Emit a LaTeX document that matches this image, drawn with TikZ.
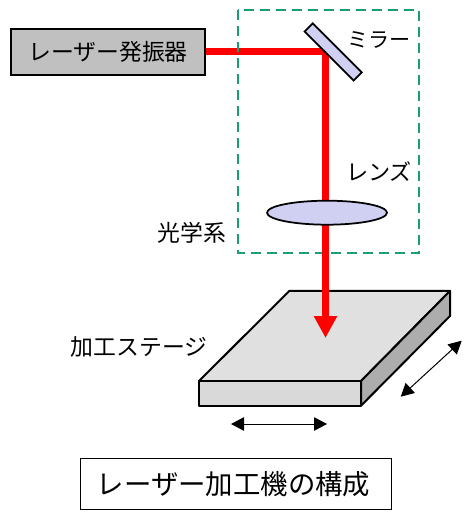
\documentclass[tikz,border=0pt]{standalone}
\usepackage{fontspec}
\setmainfont{Noto Sans CJK JP}
\usetikzlibrary{arrows.meta,shapes.geometric}
\definecolor{boxgray}{HTML}{C0C0C0}
\definecolor{optblue}{HTML}{D0D0F2}
\definecolor{optgreen}{HTML}{1A9E78}
\tikzset{
  label text/.style={font=\fontsize{13pt}{15pt}\selectfont,inner sep=0pt},
  beam/.style={red,line width=.14cm},
  optic/.style={draw=black,fill=optblue,line width=.035cm,inner sep=0pt},
  move/.style={<->,line width=.02cm},
}
\begin{document}
\begin{tikzpicture}[x=.02cm,y=-.02cm,>={Triangle[length=.26cm,width=.27cm]}]
  \useasboundingbox(0,0)rectangle(468,519);
  % stage
  \draw[fill=black!12,line width=.04cm,line join=round](289.3,291)--(450,291)--(361,381)--(199,381)--cycle;
  \draw[fill=black!15,line width=.04cm,line join=round](199,381)rectangle(361,405.7);
  \draw[fill=black!32,line width=.04cm,line join=round](450,291)--(450,316)--(361,405.7)--(361,381)--cycle;
  \node (laser) at (108,52)[draw,fill=boxgray,line width=.04cm,minimum width=3.88cm,minimum height=.92cm,label text]{レーザー発振器};
  \coordinate (turn) at (325.5,52);
  \coordinate (tip) at (325.5,338);
  % beam, then the box of the optics
  \draw[beam](laser.east)--([xshift=.07cm]turn);
  \draw[optgreen,line width=.05cm,dash pattern=on .2cm off .12cm](238,10)rectangle(419,253);
  \draw[beam,-{Triangle[length=.44cm,width=.44cm]}]([yshift=.07cm]turn)--(tip);
  \node (mirror) at (333.2,52)[optic,rectangle,rotate=-45,minimum width=1.386cm,minimum height=.232cm]{};
  \node (lens) at (327,212.7)[optic,ellipse,minimum width=2.4cm,minimum height=.48cm]{};
  \node (mirrorlabel) at (379,40)[label text,font=\fontsize{12pt}{14pt}\selectfont]{ミラー};
  \node (lenslabel) at (379,172)[label text,font=\fontsize{12.6pt}{14pt}\selectfont]{レンズ};
  \node (optlabel) at (192,233)[label text]{光学系};
  \node (stagelabel) at (139,347)[label text]{加工ステージ};
  \coordinate (xa) at (231,424);
  \coordinate (xb) at (327,424);
  \coordinate (ya) at (400.7,396.7);
  \coordinate (yb) at (461.7,340.7);
  \draw[move](xa)--(xb);
  \draw[move](ya)--(yb);
  \node (title) at (236,483.8)[draw,line width=.02cm,minimum width=6.22cm,minimum height=1.02cm,inner sep=0pt,font=\fontsize{15.6pt}{18pt}\selectfont]{\kern-.1cm レーザー加工機の構成};
\end{tikzpicture}
\end{document}
